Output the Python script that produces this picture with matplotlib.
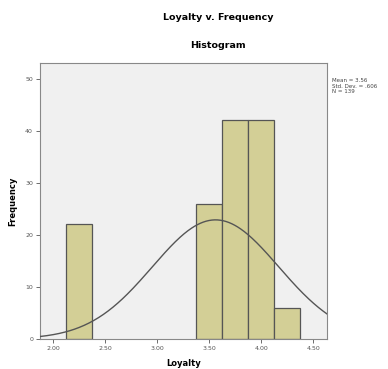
import numpy as np
import matplotlib
matplotlib.use("Agg")
import matplotlib.pyplot as plt

bin_edges = [2.125, 2.375, 2.625, 2.875, 3.125, 3.375, 3.625, 3.875, 4.125, 4.375]
counts = [22, 0, 0, 0, 0, 26, 42, 42, 6]
mean_val = 3.56
std_val = 0.606
n_val = 139
xticks = [2.0, 2.5, 3.0, 3.5, 4.0, 4.5]
xticklabels = ["2.00", "2.50", "3.00", "3.50", "4.00", "4.50"]
yticks = [0, 10, 20, 30, 40, 50]

fig = plt.figure(figsize=(3.88, 3.69), dpi=100)
ax = fig.add_axes([40/388, 1-339/369, 287/388, 276/369])
ax.set_facecolor("#f0f0f0")

edges = np.array(bin_edges)
widths = np.diff(edges)
for left, w, c in zip(edges[:-1], widths, counts):
    if c > 0:
        ax.bar(left, c, width=w, align="edge", color="#d3cf96",
               edgecolor="#555555", linewidth=0.9, zorder=2)

bw = widths[0]
xs = np.linspace(1.875, 4.63, 300)
ys = n_val * bw / (std_val * np.sqrt(2 * np.pi)) * np.exp(-0.5 * ((xs - mean_val) / std_val) ** 2)
ax.plot(xs, ys, color="#555555", linewidth=1.0, zorder=3)

ax.set_xlim(1.875, 4.63)
ax.set_ylim(0, 53)
ax.set_xticks(xticks)
ax.set_xticklabels(xticklabels)
ax.set_yticks(yticks)
ax.tick_params(labelsize=4.5, colors="#555555", length=3, width=0.6, pad=2)
for s in ax.spines.values():
    s.set_color("#888888")
    s.set_linewidth(0.8)

ax.set_xlabel("Loyalty", fontsize=6, fontweight="bold", labelpad=6)
ax.set_ylabel("Frequency", fontsize=6, fontweight="bold", labelpad=6)

fig.text(218/388, 1-18/369, "Loyalty v. Frequency", ha="center", va="center",
         fontsize=6.8, fontweight="bold")
fig.text(218/388, 1-45/369, "Histogram", ha="center", va="center",
         fontsize=6.8, fontweight="bold")
fig.text(332/388, 1-86/369, "Mean = 3.56\nStd. Dev. = .606\nN = 139", ha="left",
         va="center", fontsize=4, color="#444444", linespacing=1.1)

fig.savefig("out.png", dpi=100)
